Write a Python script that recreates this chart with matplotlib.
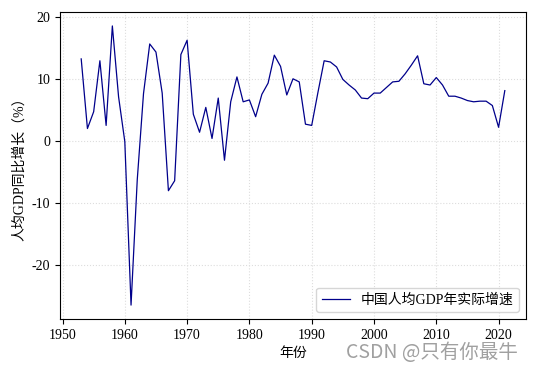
import matplotlib
matplotlib.use("Agg")
import matplotlib.pyplot as plt

plt.rcParams['font.family'] = ['Liberation Serif', 'Noto Sans CJK SC']
plt.rcParams['axes.unicode_minus'] = False

years = list(range(1953, 2022))
growth = [
    13.2, 2.0, 4.7, 12.9, 2.5, 18.5, 7.1, -0.1, -26.4, -6.2,
    7.6, 15.6, 14.3, 7.7, -8.0, -6.4, 13.9, 16.2, 4.3, 1.4,
    5.4, 0.4, 6.9, -3.1, 6.3, 10.3, 6.3, 6.6, 3.9, 7.5,
    9.3, 13.8, 12.0, 7.4, 10.0, 9.5, 2.7, 2.5, 7.8, 12.9,
    12.7, 11.9, 9.9, 9.0, 8.2, 6.9, 6.8, 7.7, 7.7, 8.6,
    9.5, 9.6, 10.8, 12.2, 13.7, 9.2, 9.0, 10.2, 9.0, 7.2,
    7.2, 6.9, 6.5, 6.3, 6.4, 6.4, 5.7, 2.2, 8.1,
]

fig = plt.figure(figsize=(5.34, 3.71), dpi=100)
ax = fig.add_axes([0.1124, 0.140, 0.8726, 0.8277])
ax.plot(years, growth, color="darkblue", linewidth=0.9, label="中国人均GDP年实际增速")
ax.grid(True, linestyle=":", color="#dddddd", linewidth=0.8)
ax.set_xlabel("年份")
ax.set_ylabel("人均GDP同比增长（%）")
ax.legend(loc="lower right")

fig.text(0.97, 0.05, "CSDN @只有你最牛", fontsize=14, color="#a0a0a0",
         ha="right", va="center", family=["Noto Sans CJK SC", "DejaVu Sans"])

fig.savefig("out.png", dpi=100)
